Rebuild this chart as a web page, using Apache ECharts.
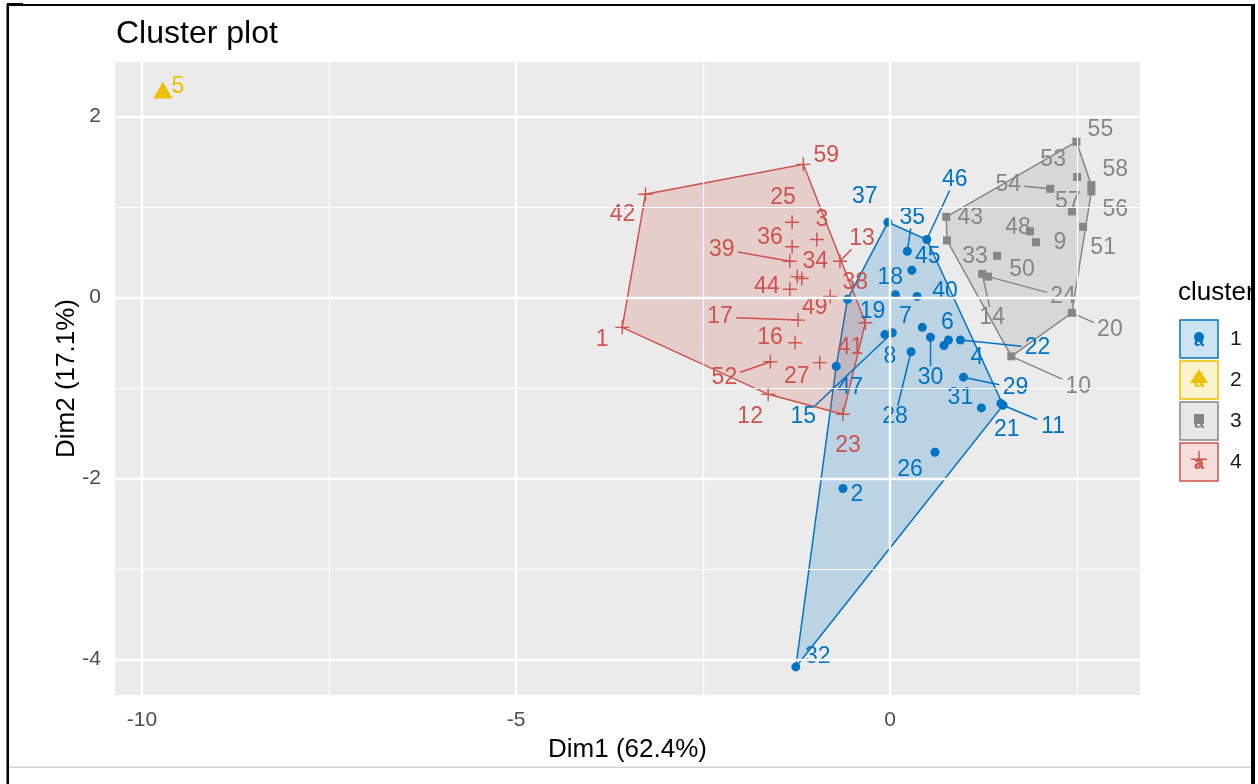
<!DOCTYPE html>
<html>
<head>
<meta charset="utf-8">
<script src="https://cdn.jsdelivr.net/npm/echarts@6/dist/echarts.min.js"></script>
<style>
  html, body { margin: 0; padding: 0; background: #ffffff; }
  #chart { width: 1258px; height: 784px; }
</style>
</head>
<body>
<div id="chart"></div>
<script>
// Observations: id, coordinates on the first two principal dimensions, k-means cluster
const ids = [1, 2, 3, 4, 5, 6, 7, 8, 9, 10, 11, 12, 13, 14, 15, 16, 17, 18, 19, 20,
  21, 22, 23, 24, 25, 26, 27, 28, 29, 30, 31, 32, 33, 34, 35, 36, 37, 38, 39, 40,
  41, 42, 43, 44, 45, 46, 47, 48, 49, 50, 51, 52, 53, 54, 55, 56, 57, 58, 59];
const dim1 = [-3.58, -0.63, -0.98, 0.72, -9.72, 0.78, 0.43, -0.07, 1.95, 1.62,
  1.51, -1.63, -0.67, 1.23, 0.03, -1.27, -1.23, 0.07, -0.57, 2.43,
  1.48, 0.94, -0.63, 1.31, -1.31, 0.60, -0.94, 0.28, 0.98, 0.54,
  1.22, -1.26, 0.76, -1.24, 0.23, -1.31, -0.03, -0.80, -1.34, 0.36,
  -0.33, -3.27, 0.75, -1.34, 0.29, 0.49, -0.72, 1.87, -1.18, 1.43,
  2.58, -1.60, 2.50, 2.14, 2.49, 2.69, 2.43, 2.69, -1.16];
const dim2 = [-0.33, -2.11, 0.64, -0.53, 2.29, -0.47, -0.33, -0.41, 0.61, -0.65,
  -1.19, -1.07, 0.40, 0.26, -0.39, -0.50, -0.25, 0.03, -0.02, -0.17,
  -1.17, -0.47, -1.29, 0.23, 0.83, -1.71, -0.72, -0.60, -0.88, -0.44,
  -1.22, -4.08, 0.63, 0.23, 0.51, 0.56, 0.83, 0.01, 0.40, 0.01,
  -0.28, 1.14, 0.89, 0.09, 0.30, 0.64, -0.76, 0.73, 0.21, 0.46,
  0.78, -0.71, 1.33, 1.20, 1.72, 1.17, 0.95, 1.24, 1.47];
const cluster = [4, 1, 4, 1, 2, 1, 1, 1, 3, 3, 1, 4, 4, 3, 1, 4, 4, 1, 1, 3,
  1, 1, 4, 3, 4, 1, 4, 1, 1, 1, 1, 1, 3, 4, 1, 4, 1, 4, 4, 1,
  4, 4, 3, 4, 1, 1, 1, 3, 4, 3, 3, 4, 3, 3, 3, 3, 3, 3, 4];

const clusterNames = ['1', '2', '3', '4'];
const xTicks = [-10, -5, 0];
const xMinor = [-7.5, -2.5, 2.5];
const yTicks = [-4, -2, 0, 2];
const yMinor = [-3, -1, 1];

// Label placement (pixel nudges away from each point, repel-style)
const labelNudge = {
  1: [-20, 12], 2: [14, 6], 3: [5, -20], 4: [33, 12], 5: [15, -3], 6: [-1, -17],
  7: [-17, -11], 8: [5, 22], 9: [24, 0], 10: [67, 30], 11: [50, 21], 12: [-18, 22],
  13: [22, -23], 14: [10, 44], 15: [-89, 84], 16: [-25, -5], 17: [-78, -3], 18: [-5, -17],
  19: [25, 12], 20: [38, 17], 21: [6, 26], 22: [77, 8], 23: [5, 31], 24: [75, 20],
  25: [-9, -25], 26: [-25, 17], 27: [-23, 14], 28: [-16, 65], 29: [52, 11], 30: [0, 40],
  31: [-21, -10], 32: [22, -10], 33: [28, 16], 34: [18, -15], 35: [5, -34], 36: [-22, -9],
  37: [-23, -26], 38: [25, -14], 39: [-68, -12], 40: [28, -5], 41: [-15, 25], 42: [-23, 20],
  43: [24, 1], 44: [-23, -3], 45: [16, -14], 46: [28, -60], 47: [14, 21], 48: [-12, -4],
  49: [13, 29], 50: [25, 14], 51: [20, 21], 52: [-46, 16], 53: [-24, -17], 54: [-42, -4],
  55: [24, -12], 56: [24, 18], 57: [-4, -10], 58: [24, -16], 59: [23, -9]
};
// Labels pushed far enough to get a connector segment
const leaderIds = [10, 11, 13, 14, 15, 17, 20, 22, 24, 28, 29, 30, 35, 39, 46, 52, 54];

const palette = { '1': '#0073C2', '2': '#EFC000', '3': '#868686', '4': '#CD534C' };
const fillPalette = { '1': 'rgba(0,115,194,0.2)', '2': 'rgba(239,192,0,0.2)',
  '3': 'rgba(134,134,134,0.2)', '4': 'rgba(205,83,76,0.2)' };
const plusPath = 'path://M4.5,0h1v4.5h4.5v1h-4.5v4.5h-1v-4.5h-4.5v-1h4.5z';
const symbols = {
  '1': { symbol: 'circle', size: 9 },
  '2': { symbol: 'triangle', size: [19, 17] },
  '3': { symbol: 'rect', size: 8 },
  '4': { symbol: plusPath, size: 14 }
};
const FONT = '"Liberation Sans", Arial, sans-serif';

// convex hull (monotone chain)
function convexHull(pts) {
  const p = pts.slice().sort((a, b) => a[0] - b[0] || a[1] - b[1]);
  if (p.length < 3) return p;
  const cross = (o, a, b) => (a[0] - o[0]) * (b[1] - o[1]) - (a[1] - o[1]) * (b[0] - o[0]);
  const lower = [], upper = [];
  for (const q of p) {
    while (lower.length >= 2 && cross(lower[lower.length - 2], lower[lower.length - 1], q) <= 0) lower.pop();
    lower.push(q);
  }
  for (let i = p.length - 1; i >= 0; i--) {
    const q = p[i];
    while (upper.length >= 2 && cross(upper[upper.length - 2], upper[upper.length - 1], q) <= 0) upper.pop();
    upper.push(q);
  }
  upper.pop(); lower.pop();
  return lower.concat(upper);
}

const series = [];

// panel grid lines
series.push({
  type: 'line', data: [], z: 0, silent: true,
  markLine: {
    silent: true, symbol: 'none', animation: false, label: { show: false },
    data: [
      ...xMinor.map(v => ({ xAxis: v, lineStyle: { color: '#ffffff', width: 1.2, type: 'solid' } })),
      ...yMinor.map(v => ({ yAxis: v, lineStyle: { color: '#ffffff', width: 1.2, type: 'solid' } })),
      ...xTicks.map(v => ({ xAxis: v, lineStyle: { color: '#ffffff', width: 2.4, type: 'solid' } })),
      ...yTicks.map(v => ({ yAxis: v, lineStyle: { color: '#ffffff', width: 2.4, type: 'solid' } }))
    ]
  }
});

// cluster hulls
clusterNames.forEach(c => {
  const pts = [];
  ids.forEach((id, i) => { if (String(cluster[i]) === c) pts.push([dim1[i], dim2[i]]); });
  if (pts.length < 3) return;
  const hull = convexHull(pts);
  series.push({
    type: 'custom', coordinateSystem: 'cartesian2d', z: 1, silent: true,
    data: [hull[0]],
    renderItem: (params, api) => ({
      type: 'polygon',
      shape: { points: hull.map(p => api.coord(p)) },
      style: { fill: fillPalette[c], stroke: palette[c], lineWidth: 1.5 }
    })
  });
});

// connector segments from points to displaced labels
const leaderData = leaderIds.map(id => {
  const i = ids.indexOf(id);
  return [dim1[i], dim2[i], id, cluster[i]];
});
series.push({
  type: 'custom', coordinateSystem: 'cartesian2d', z: 2, silent: true,
  data: leaderData,
  encode: { x: 0, y: 1 },
  renderItem: (params, api) => {
    const p = api.coord([api.value(0), api.value(1)]);
    const id = api.value(2);
    const c = String(api.value(3));
    const [dx, dy] = labelNudge[id];
    const hw = 6.5 * String(id).length + 3, hh = 11;
    const t = 1 - Math.min(Math.abs(dx) > 0 ? hw / Math.abs(dx) : 1, Math.abs(dy) > 0 ? hh / Math.abs(dy) : 1);
    return {
      type: 'line',
      shape: { x1: p[0], y1: p[1], x2: p[0] + dx * t, y2: p[1] + dy * t },
      style: { stroke: palette[c], lineWidth: 1.5 }
    };
  }
});

// points with their id labels
clusterNames.forEach(c => {
  const data = [];
  ids.forEach((id, i) => {
    if (String(cluster[i]) !== c) return;
    data.push({
      value: [dim1[i], dim2[i], id],
      label: { offset: labelNudge[id] }
    });
  });
  series.push({
    name: c, type: 'scatter', z: 3, silent: true,
    symbol: symbols[c].symbol, symbolSize: symbols[c].size,
    itemStyle: { color: palette[c], opacity: 1 },
    label: {
      show: true, position: 'inside', formatter: p => String(p.value[2]),
      color: palette[c], fontSize: 23, fontFamily: FONT
    },
    data: data
  });
});

// legend keys
const legendEls = [{
  type: 'text', left: 1178, top: 280,
  style: { text: 'cluster', fontSize: 26, fontFamily: FONT, fill: '#000000' }
}];
clusterNames.forEach((c, k) => {
  const x0 = 1180, y0 = 320 + 41 * k, s = 38;
  const cx = x0 + s / 2, cy = y0 + s / 2;
  legendEls.push({ type: 'rect', shape: { x: x0, y: y0, width: s, height: s },
    style: { fill: fillPalette[c], stroke: palette[c], lineWidth: 1.5 } });
  if (c === '1') legendEls.push({ type: 'circle', shape: { cx: cx, cy: cy - 2, r: 5 }, style: { fill: palette[c] } });
  if (c === '2') legendEls.push({ type: 'polygon', shape: { points: [[cx, cy - 11], [cx - 9, cy + 3], [cx + 9, cy + 3]] }, style: { fill: palette[c] } });
  if (c === '3') legendEls.push({ type: 'rect', shape: { x: cx - 5, y: cy - 7, width: 10, height: 10 }, style: { fill: palette[c] } });
  if (c === '4') {
    legendEls.push({ type: 'rect', shape: { x: cx - 8, y: cy - 3.5, width: 16, height: 1.5 }, style: { fill: palette[c] } });
    legendEls.push({ type: 'rect', shape: { x: cx - 0.75, y: cy - 11, width: 1.5, height: 16 }, style: { fill: palette[c] } });
  }
  legendEls.push({ type: 'text', x: cx, y: cy + 2,
    style: { text: 'a', fontSize: 18, fontWeight: 'bold', fontFamily: FONT, fill: palette[c], align: 'center', verticalAlign: 'middle' } });
  legendEls.push({ type: 'text', x: 1230, y: cy,
    style: { text: clusterNames[k], fontSize: 21, fontFamily: FONT, fill: '#1a1a1a', verticalAlign: 'middle' } });
});
// outer frame
const frameEls = [
  { type: 'rect', shape: { x: 1255, y: 0, width: 3, height: 784 }, style: { fill: '#ffffff' } },
  { type: 'rect', shape: { x: 1251, y: 4, width: 4, height: 780 }, style: { fill: '#000000' } },
  { type: 'rect', shape: { x: 7, y: 4, width: 1248, height: 2 }, style: { fill: '#000000' } },
  { type: 'rect', shape: { x: 7, y: 3, width: 16, height: 3 }, style: { fill: '#000000' } },
  { type: 'rect', shape: { x: 6.5, y: 4, width: 2.5, height: 780 }, style: { fill: '#000000' } },
  { type: 'rect', shape: { x: 9, y: 766.5, width: 1242, height: 1.5 }, style: { fill: '#cfd3d8' } }
];

const chart = echarts.init(document.getElementById('chart'), null, { renderer: 'canvas' });
chart.setOption({
  animation: false,
  backgroundColor: '#ffffff',
  title: {
    text: 'Cluster plot', left: 116, top: 18, padding: 0,
    textStyle: { fontSize: 32, fontWeight: 'normal', color: '#000000', fontFamily: FONT }
  },
  grid: {
    left: 115, top: 62, width: 1025, height: 633,
    show: true, backgroundColor: '#EBEBEB', borderWidth: 0
  },
  xAxis: {
    type: 'value', min: -10.36, max: 3.34,
    name: 'Dim1 (62.4%)', nameLocation: 'middle', nameGap: 42,
    nameTextStyle: { fontSize: 26, color: '#000000', fontFamily: FONT },
    axisLine: { show: false },
    axisTick: { show: true, customValues: xTicks, length: 6, lineStyle: { color: '#333333', width: 1.5 } },
    axisLabel: { customValues: xTicks, fontSize: 21, color: '#4D4D4D', margin: 15, fontFamily: FONT },
    splitLine: { show: false }
  },
  yAxis: {
    type: 'value', min: -4.39, max: 2.60,
    name: 'Dim2 (17.1%)', nameLocation: 'middle', nameGap: 35, nameRotate: 90,
    nameMoveOverlap: false,
    nameTextStyle: { fontSize: 26, color: '#000000', fontFamily: FONT },
    axisLine: { show: false },
    axisTick: { show: true, customValues: yTicks, length: 6, lineStyle: { color: '#333333', width: 1.5 } },
    axisLabel: { customValues: yTicks, fontSize: 21, color: '#4D4D4D', margin: 14, fontFamily: FONT },
    splitLine: { show: false }
  },
  graphic: { elements: legendEls.concat(frameEls) },
  series: series
});
</script>
</body>
</html>
